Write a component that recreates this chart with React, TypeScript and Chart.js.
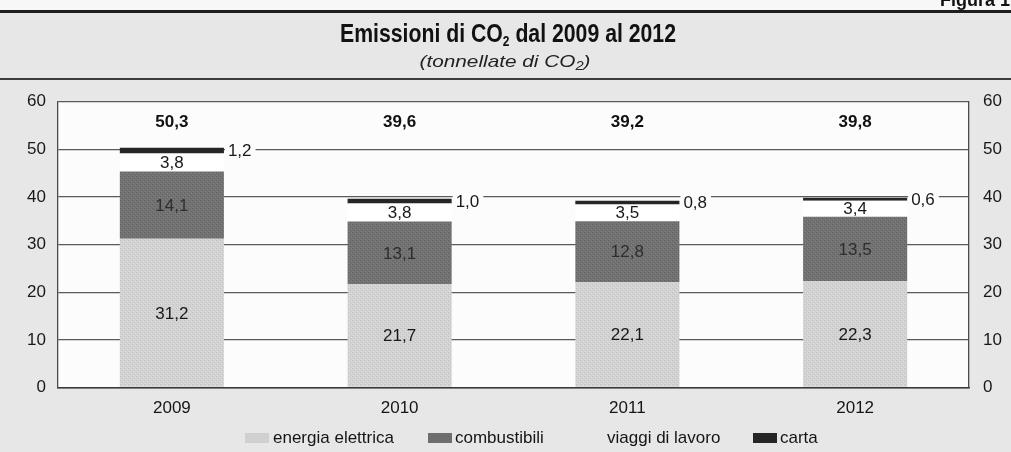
import React, { useEffect, useRef } from "react";
import { Chart, registerables } from "chart.js";

Chart.register(...registerables);

// ---- data ----
const categories = ["2009", "2010", "2011", "2012"];
const energiaElettrica = [31.2, 21.7, 22.1, 22.3];
const combustibili = [14.1, 13.1, 12.8, 13.5];
const viaggiDiLavoro = [3.8, 3.8, 3.5, 3.4];
const carta = [1.2, 1.0, 0.8, 0.6];
const totals = [50.3, 39.6, 39.2, 39.8];
const seriesNames = ["energia elettrica", "combustibili", "viaggi di lavoro", "carta"];
const yMin = 0;
const yMax = 60;
const yStep = 10;

const FONT = "'Liberation Sans', Arial, Helvetica, sans-serif";
const fmt = (v: number) => v.toFixed(1).replace(".", ",");

function makePattern(base: string, dot: string, dot2: string) {
  const c = document.createElement("canvas");
  c.width = 4;
  c.height = 4;
  const g = c.getContext("2d")!;
  g.fillStyle = base;
  g.fillRect(0, 0, 4, 4);
  g.fillStyle = dot;
  g.fillRect(0, 0, 1, 1);
  g.fillRect(2, 2, 1, 1);
  g.fillStyle = dot2;
  g.fillRect(1, 3, 1, 1);
  g.fillRect(3, 1, 1, 1);
  const ctx = document.createElement("canvas").getContext("2d")!;
  return ctx.createPattern(c, "repeat")!;
}

export default function App() {
  const ref = useRef<HTMLCanvasElement | null>(null);

  useEffect(() => {
    const canvas = ref.current!;
    const energiaFill = makePattern("#d2d2d2", "#c2c2c2", "#dedede");
    const combFill = makePattern("#727272", "#626262", "#808080");
    const colors: any[] = [energiaFill, combFill, "#ffffff", "#262626"];
    const swatchColors = ["#d0d0d0", "#6e6e6e", "#ffffff", "#262626"];

    const headerPlugin = {
      id: "header",
      beforeDraw(chart: any) {
        const { ctx, chartArea, width, height } = chart;
        ctx.save();
        ctx.fillStyle = "#e7e7e7";
        ctx.fillRect(0, 0, width, height);
        ctx.fillStyle = "#f7f7f7";
        ctx.fillRect(0, 0, width, 10);
        // "Figura 1" (cut at the top)
        ctx.fillStyle = "#111";
        ctx.font = `bold 18px ${FONT}`;
        ctx.textAlign = "left";
        ctx.textBaseline = "alphabetic";
        ctx.fillText("Figura 1", 940, 6);
        // top rule
        ctx.fillStyle = "#1e1e1e";
        ctx.fillRect(0, 10, width, 3);
        // title
        const drawWithSub = (
          parts: [string, string, string],
          font: string,
          subFont: string,
          cx: number,
          baseY: number,
          targetW: number,
          subDy: number
        ) => {
          ctx.font = font;
          const w1 = ctx.measureText(parts[0]).width;
          const w3 = ctx.measureText(parts[2]).width;
          ctx.font = subFont;
          const w2 = ctx.measureText(parts[1]).width;
          const total = w1 + w2 + w3;
          const sx = targetW / total;
          ctx.save();
          ctx.translate(cx - targetW / 2, baseY);
          ctx.scale(sx, 1);
          ctx.textAlign = "left";
          ctx.font = font;
          ctx.fillText(parts[0], 0, 0);
          ctx.font = subFont;
          ctx.fillText(parts[1], w1, subDy);
          ctx.font = font;
          ctx.fillText(parts[2], w1 + w2, 0);
          ctx.restore();
        };
        ctx.fillStyle = "#111";
        drawWithSub(
          ["Emissioni di CO", "2", " dal 2009 al 2012"],
          `bold 25px ${FONT}`,
          `bold 14px ${FONT}`,
          508,
          42,
          336,
          4
        );
        ctx.fillStyle = "#222";
        drawWithSub(
          ["(tonnellate di CO", "2", ")"],
          `italic 17px ${FONT}`,
          `italic 12px ${FONT}`,
          505,
          67,
          171,
          3
        );
        // second rule
        ctx.fillStyle = "#3c3c3c";
        ctx.fillRect(0, 78, width, 2);
        // plot background
        ctx.fillStyle = "#fcfcfc";
        ctx.fillRect(
          chartArea.left,
          chartArea.top,
          chartArea.right - chartArea.left,
          chartArea.bottom - chartArea.top
        );
        ctx.restore();
      },
    };

    const labelPlugin = {
      id: "labels",
      afterDatasetsDraw(chart: any) {
        const { ctx } = chart;
        const yScale = chart.scales.y;
        ctx.save();
        ctx.textBaseline = "middle";
        ctx.font = `17px ${FONT}`;
        for (let d = 0; d < 3; d++) {
          const meta = chart.getDatasetMeta(d);
          const data = chart.data.datasets[d].data as number[];
          meta.data.forEach((bar: any, i: number) => {
            ctx.fillStyle = d === 1 ? "#2e2e2e" : "#181818";
            ctx.textAlign = "center";
            ctx.fillText(fmt(data[i]), bar.x, (bar.y + bar.base) / 2 + 1);
          });
        }
        // carta labels to the right with background gap
        const cm = chart.getDatasetMeta(3);
        cm.data.forEach((bar: any, i: number) => {
          const txt = fmt(carta[i]);
          const x0 = bar.x + bar.width / 2;
          const cy = (bar.y + bar.base) / 2;
          const tw = ctx.measureText(txt).width;
          ctx.fillStyle = "#fcfcfc";
          ctx.fillRect(x0 + 1, cy - 8, tw + 7, 16);
          ctx.fillStyle = "#181818";
          ctx.textAlign = "left";
          ctx.fillText(txt, x0 + 4, cy + 1);
        });
        // totals
        ctx.font = `bold 17px ${FONT}`;
        ctx.fillStyle = "#111";
        ctx.textAlign = "center";
        const ty = yScale.getPixelForValue(55.6);
        cm.data.forEach((bar: any, i: number) => {
          ctx.fillText(fmt(totals[i]), bar.x, ty);
        });
        ctx.restore();
      },
      afterDraw(chart: any) {
        const { ctx } = chart;
        ctx.save();
        const swX = [245, 428, 580, 753];
        const txX = [273, 455, 607, 780];
        const cy = 438;
        ctx.font = `17px ${FONT}`;
        ctx.textBaseline = "middle";
        ctx.textAlign = "left";
        seriesNames.forEach((name, i) => {
          ctx.fillStyle = swatchColors[i];
          if (i !== 2) ctx.fillRect(swX[i], cy - 5, 24, 10);
          ctx.fillStyle = "#151515";
          ctx.fillText(name, txX[i], cy);
        });
        ctx.restore();
      },
    };

    const values = [energiaElettrica, combustibili, viaggiDiLavoro, carta];
    const chart = new Chart(canvas, {
      type: "bar",
      data: {
        labels: categories,
        datasets: values.map((v, i) => ({
          label: seriesNames[i],
          data: v,
          backgroundColor: colors[i],
          borderWidth: 0,
          barPercentage: 0.457,
          categoryPercentage: 1,
          yAxisID: "y",
        })),
      },
      options: {
        responsive: false,
        animation: false,
        devicePixelRatio: 1,
        layout: { padding: { top: 101.5, left: 0, right: 0, bottom: 0 } },
        plugins: {
          legend: { display: false },
          title: { display: false },
          tooltip: { enabled: false },
        },
        scales: {
          x: {
            stacked: true,
            grid: { display: false, drawTicks: false },
            border: { display: true, color: "#3a3a3a", width: 1.5 },
            ticks: {
              padding: 11,
              color: "#151515",
              font: { family: FONT, size: 17 },
            },
            afterFit: (s: any) => {
              s.height = 64.5;
            },
          },
          y: {
            stacked: true,
            position: "left",
            min: yMin,
            max: yMax,
            grid: { color: "#5a5a5a", lineWidth: 1.3, drawTicks: false },
            border: { display: true, color: "#4a4a4a", width: 1.3 },
            ticks: {
              stepSize: yStep,
              padding: 12,
              color: "#181818",
              font: { family: FONT, size: 17 },
            },
            afterFit: (s: any) => {
              s.width = 58;
            },
          },
          y2: {
            position: "right",
            min: yMin,
            max: yMax,
            grid: { display: false, drawTicks: false },
            border: { display: true, color: "#4a4a4a", width: 1.3 },
            ticks: {
              stepSize: yStep,
              padding: 14,
              color: "#181818",
              font: { family: FONT, size: 17 },
            },
            afterFit: (s: any) => {
              s.width = 42;
            },
          },
        },
      } as any,
      plugins: [headerPlugin, labelPlugin],
    });
    return () => chart.destroy();
  }, []);

  return (
    <div style={{ position: "absolute", left: 0, top: 0, width: 1011, height: 452 }}>
      <canvas ref={ref} width={1011} height={452} style={{ display: "block" }} />
    </div>
  );
}
